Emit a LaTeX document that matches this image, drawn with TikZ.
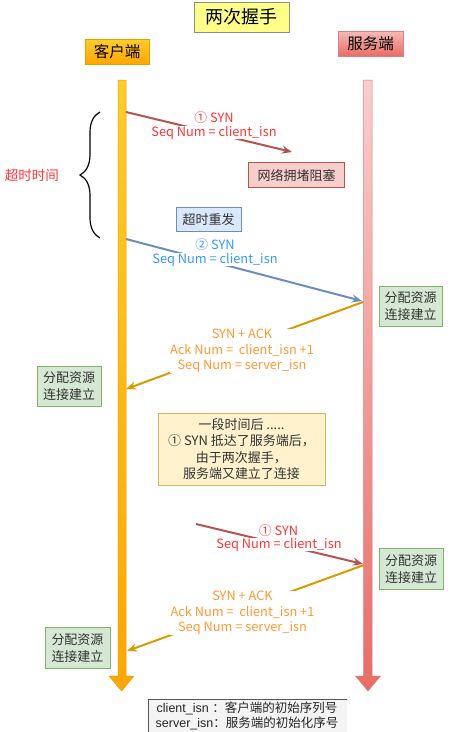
\documentclass[tikz,border=0pt]{standalone}
\usepackage{fontspec}
\setmainfont{Noto Sans CJK SC}
\newfontfamily\lib{Liberation Sans}
\newfontfamily\cjk{Noto Sans CJK SC}
\usetikzlibrary{arrows.meta,decorations.pathreplacing,shadings}
\definecolor{titlefill}{HTML}{FFFF88}
\definecolor{titledraw}{HTML}{8C8C8C}
\definecolor{cltop}{HTML}{FFCD28}
\definecolor{clbot}{HTML}{FFA500}
\definecolor{cldraw}{HTML}{E8A000}
\definecolor{svtop}{HTML}{F8CECC}
\definecolor{svbot}{HTML}{EA6B66}
\definecolor{svdraw}{HTML}{D88080}
\definecolor{pinkfill}{HTML}{F8CECC}
\definecolor{pinkdraw}{HTML}{B85450}
\definecolor{greenfill}{HTML}{D5E8D4}
\definecolor{greendraw}{HTML}{82B366}
\definecolor{bluefill}{HTML}{DAE8FC}
\definecolor{bluedraw}{HTML}{6C8EBF}
\definecolor{notefill}{HTML}{FFF2CC}
\definecolor{notedraw}{HTML}{D6B656}
\definecolor{txtdark}{HTML}{333333}
\definecolor{synred}{HTML}{FF3333}
\definecolor{synline}{HTML}{B85450}
\definecolor{synblue}{HTML}{3399FF}
\definecolor{blueline}{HTML}{6C8EBF}
\definecolor{ackorange}{HTML}{FF9933}
\definecolor{ackline}{HTML}{D79B00}
\definecolor{legfill}{HTML}{F4F4F4}
\definecolor{legdraw}{HTML}{555555}
\begin{document}
\begin{tikzpicture}[x=1pt,y=-1pt,
  box/.style={draw, rectangle, inner sep=1pt, align=center, text=txtdark,
    line width=0.8pt, font=\fontsize{13}{17}\selectfont},
  lab/.style={inner sep=0.3pt, fill=white, align=center,
    font=\fontsize{12.8}{15.5}\selectfont},
  msg/.style={line width=2pt, -{Stealth[length=10pt,width=8pt]}},
  lifeline/.style={line width=0.5pt}
]
\useasboundingbox (0,0) rectangle (470,732);
\fill[white] (0,0) rectangle (470,732);

% title and actors
\node[draw=titledraw, fill=titlefill, line width=0.8pt, minimum width=95pt,
  minimum height=30pt, inner sep=0pt, font=\fontsize{18}{20}\selectfont]
  (title) at (241.5,17) {两次握手};
\node[draw=cldraw, top color=cltop, bottom color=clbot, line width=0.6pt,
  minimum width=64pt, minimum height=25pt, inner sep=0pt,
  font=\fontsize{15.5}{17}\selectfont] (client) at (117,52) {客户端};
\node[draw=svdraw, top color=svtop!80!svbot, bottom color=svbot, line width=0.6pt,
  minimum width=65pt, minimum height=25pt, inner sep=0pt,
  font=\fontsize{15.5}{17}\selectfont] (server) at (370.5,43.5) {服务端};

% lifelines
\path[lifeline, draw=cldraw, top color=cltop, bottom color=clbot]
  (118,80) -- (126,80) -- (126,676) -- (134,676) -- (121.5,691) -- (109,676) -- (118,676) -- cycle;
\path[lifeline, draw=svdraw, top color=svtop, bottom color=svbot]
  (363.5,80) -- (372,80) -- (372,676) -- (380.5,676) -- (368,691) -- (355.5,676) -- (363.5,676) -- cycle;

% brace and timeout
\coordinate (bracetop) at (100,112);
\coordinate (bracebot) at (100,238);
\draw[line width=1.2pt, decorate, decoration={brace, amplitude=20pt}] (bracebot) -- (bracetop);
\node[text=synred, inner sep=0pt, font=\fontsize{13.5}{15}\selectfont] (timeout) at (32,175) {超时时间};

% message 1: SYN (lost)
\coordinate (m1a) at (126,112);
\coordinate (m1b) at (292,152);
\draw[msg, synline] (m1a) -- (m1b);
\node[lab, text=synred] (m1l1) at (214,117.5) {① SYN};
\node[lab, text=synred] (m1l2) at (214,132.5) {Seq Num = client\_isn};
\node[box, draw=pinkdraw, fill=pinkfill, minimum width=96pt, minimum height=25pt] (jam) at (296.5,175) {网络拥堵阻塞};

% retransmit
\node[box, draw=bluedraw, fill=bluefill, minimum width=65pt, minimum height=24pt] (retx) at (208.5,219.5) {超时重发};
\coordinate (m2a) at (126,239);
\coordinate (m2b) at (362,301);
\draw[msg, blueline] (m2a) -- (m2b);
\node[lab, text=synblue] (m2l1) at (215,245) {② SYN};
\node[lab, text=synblue] (m2l2) at (215,259.5) {Seq Num = client\_isn};
\node[box, draw=greendraw, fill=greenfill, minimum width=63pt, minimum height=40pt] (srv1) at (410.5,306) {分配资源\\连接建立};

% SYN+ACK 1
\coordinate (m3a) at (363,302);
\coordinate (m3b) at (126,389);
\draw[msg, ackline] (m3a) -- (m3b);
\node[lab, text=ackorange] (m3l) at (242,351) {SYN + ACK\\Ack Num =\ \ client\_isn +1\\Seq Num = server\_isn};
\node[box, draw=greendraw, fill=greenfill, minimum width=64pt, minimum height=40pt] (cli1) at (69,386) {分配资源\\连接建立};

% note
\node[box, draw=notedraw, fill=notefill, minimum width=167pt, minimum height=72pt,
  font=\fontsize{13}{16.2}\selectfont] (note) at (241.5,449)
  {一段时间后 .....\\① SYN 抵达了服务端后，\\由于两次握手，\\服务端又建立了连接};

% message 1 arrives late
\coordinate (m4a) at (196,524);
\coordinate (m4b) at (363,564);
\draw[msg, synline] (m4a) -- (m4b);
\node[lab, text=synred] (m4l1) at (278.5,531) {① SYN};
\node[lab, text=synred] (m4l2) at (279,544.5) {Seq Num = client\_isn};
\node[box, draw=greendraw, fill=greenfill, minimum width=64pt, minimum height=41pt] (srv2) at (411,568.7) {分配资源\\连接建立};

% SYN+ACK 2
\coordinate (m5a) at (364,565);
\coordinate (m5b) at (127,651);
\draw[msg, ackline] (m5a) -- (m5b);
\node[lab, text=ackorange] (m5l) at (242.5,613) {SYN + ACK\\Ack Num =\ \ client\_isn +1\\Seq Num = server\_isn};
\node[box, draw=greendraw, fill=greenfill, minimum width=65pt, minimum height=41pt] (cli2) at (77.5,648) {分配资源\\连接建立};

% legend (cut off at right)
\begin{scope}
\clip (0,0) rectangle (347,732);
\node[draw=legdraw, fill=legfill, line width=0.8pt, anchor=north west,
  minimum width=240pt, minimum height=48pt, inner sep=0pt] (legend) at (148,699) {};
\node[anchor=west, inner sep=0pt, text=black!85, font=\fontsize{12.5}{14}\selectfont] (leg1) at (156.5,708.5)
  {\lib client\_isn \cjk ：客户端的初始序列号};
\node[anchor=west, inner sep=0pt, text=black!85, font=\fontsize{12.5}{14}\selectfont] (leg2) at (155.5,723.5)
  {\lib server\_isn\cjk ：服务端的初始化序号};
\end{scope}
\end{tikzpicture}
\end{document}
